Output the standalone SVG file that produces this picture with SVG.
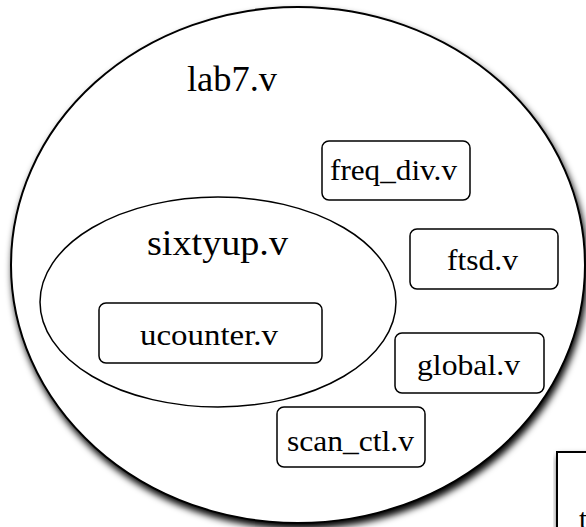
<svg xmlns="http://www.w3.org/2000/svg" width="586" height="527" viewBox="0 0 586 527">
  <defs>
    <filter id="shadow" x="-10%" y="-10%" width="125%" height="125%">
      <feGaussianBlur in="SourceAlpha" stdDeviation="3.5"/>
      <feOffset dx="2" dy="5" result="blur"/>
      <feComponentTransfer>
        <feFuncA type="linear" slope="1"/>
      </feComponentTransfer>
      <feMerge>
        <feMergeNode/>
        <feMergeNode in="SourceGraphic"/>
      </feMerge>
    </filter>
  </defs>
  <style>
    .outer { fill: #ffffff; stroke: #000000; stroke-width: 2; }
    .module { fill: #ffffff; stroke: #000000; stroke-width: 1.5; }
    .big { font-family: "Palatino Linotype", "Book Antiqua", Palatino, "Liberation Serif", serif; font-size: 35px; fill: #000000; }
    .small { font-family: "Palatino Linotype", "Book Antiqua", Palatino, "Liberation Serif", serif; font-size: 29.5px; fill: #000000; }
  </style>
  <rect width="586" height="527" fill="#ffffff"/>

  <!-- top-level module -->
  <g id="lab7">
    <ellipse class="outer" cx="298" cy="265" rx="287" ry="258" filter="url(#shadow)"/>
    <text class="big" x="187" y="91" textLength="90" lengthAdjust="spacingAndGlyphs">lab7.v</text>
  </g>

  <!-- neighbouring panel, partly off-canvas -->
  <g id="panel">
    <rect class="outer" x="557" y="452" width="60" height="100" filter="url(#shadow)"/>
    <text class="small" x="579" y="529">t</text>
  </g>

  <g id="freq_div">
    <rect class="module" x="322" y="141" width="148" height="59" rx="7"/>
    <text class="small" x="330" y="180" textLength="127" lengthAdjust="spacingAndGlyphs">freq_div.v</text>
  </g>

  <g id="sixtyup">
    <ellipse class="module" cx="218" cy="302" rx="178" ry="105"/>
    <text class="big" x="147" y="255" textLength="141" lengthAdjust="spacingAndGlyphs">sixtyup.v</text>
  </g>

  <g id="ucounter">
    <rect class="module" x="99" y="303" width="223" height="60" rx="7"/>
    <text class="small" x="140" y="345" textLength="138" lengthAdjust="spacingAndGlyphs">ucounter.v</text>
  </g>

  <g id="ftsd">
    <rect class="module" x="410" y="229" width="148" height="60" rx="7"/>
    <text class="small" x="447" y="270" textLength="71" lengthAdjust="spacingAndGlyphs">ftsd.v</text>
  </g>

  <g id="global">
    <rect class="module" x="395" y="333" width="149" height="60" rx="7"/>
    <text class="small" x="417" y="375" textLength="103" lengthAdjust="spacingAndGlyphs">global.v</text>
  </g>

  <g id="scan_ctl">
    <rect class="module" x="277" y="407" width="148" height="60" rx="7"/>
    <text class="small" x="287" y="451" textLength="127" lengthAdjust="spacingAndGlyphs">scan_ctl.v</text>
  </g>

  <g id="connectors"/>
</svg>
